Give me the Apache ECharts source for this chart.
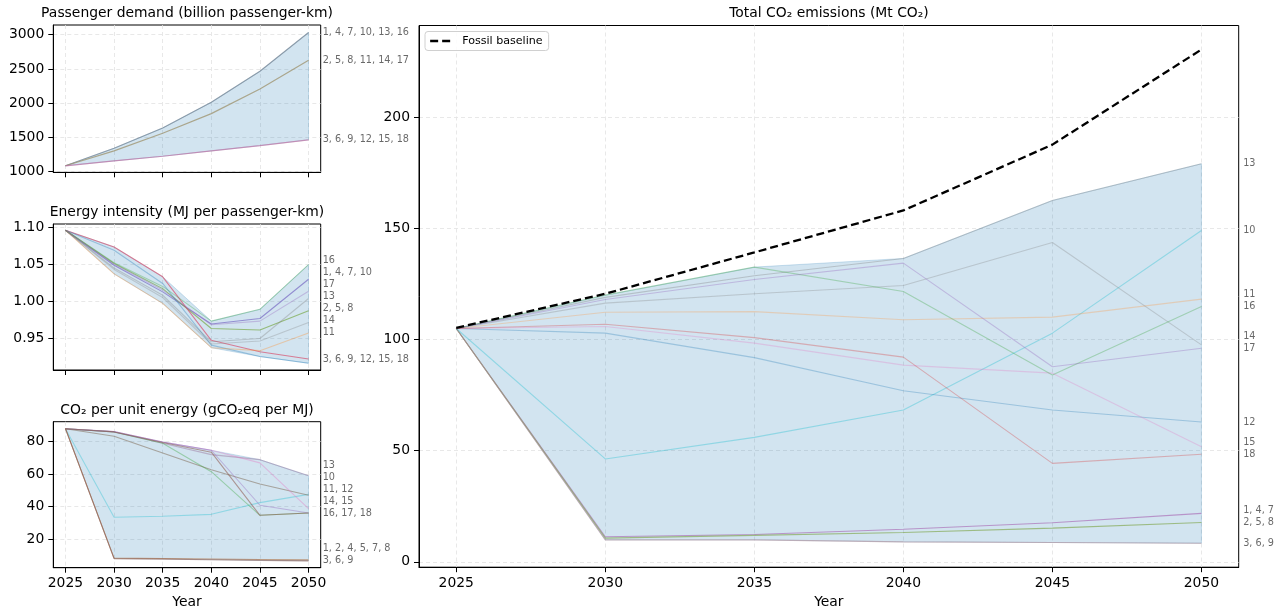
<!DOCTYPE html>
<html>
<head>
<meta charset="utf-8">
<script src="https://cdn.jsdelivr.net/npm/echarts@6/dist/echarts.min.js"></script>
<style>
  html, body { margin: 0; padding: 0; background: #fff; }
  #chart { width: 1285px; height: 612px; }
</style>
</head>
<body>
<div id="chart"></div>
<script>
// ---------------- data ----------------
const years = [2025, 2030, 2035, 2040, 2045, 2050];

// Passenger demand (billion passenger-km)
const demandHigh = [1085, 1341, 1637, 2012, 2465, 3032];
const demandMid  = [1085, 1302, 1560, 1847, 2207, 2625];
const demandLow  = [1085, 1156, 1224, 1302, 1380, 1464];
const demandTags = ['1, 4, 7, 10, 13, 16', '2, 5, 8, 11, 14, 17', '3, 6, 9, 12, 15, 18'];

// Energy intensity (MJ per passenger-km)
const eiA = [1.096, 1.0486, 1.0126, 0.969, 0.9766, 1.0297];   // 1, 4, 7, 10
const eiB = [1.096, 1.051, 1.017, 0.963, 0.961, 0.987];       // 2, 5, 8
const eiC = [1.096, 1.0734, 1.033, 0.947, 0.9315, 0.9216];    // 3, 6, 9, 12, 15, 18
const eiC2 = [1.096, 1.069, 1.024, 0.9405, 0.925, 0.916];     // low-intensity variant
const ei11 = [1.096, 1.037, 0.997, 0.937, 0.933, 0.957];
const ei13 = [1.096, 1.045, 1.008, 0.945, 0.9495, 1.0036];
const ei14 = [1.096, 1.043, 1.005, 0.942, 0.946, 0.971];
const ei16 = [1.096, 1.052, 1.020, 0.973, 0.989, 1.0495];
const ei17 = [1.096, 1.050, 1.015, 0.968, 0.973, 1.0135];
const eiTags = ['1, 4, 7, 10', '2, 5, 8', '3, 6, 9, 12, 15, 18', '', '11', '13', '14', '16', '17'];

// Carbon intensity of energy (gCO2eq per MJ)
const ci13 = [88.0, 86.0, 79.0, 72.0, 68.9, 59.0];
const ci10 = [88.0, 33.4, 34.0, 35.2, 42.4, 47.5];
const ci11 = [88.0, 83.3, 73.0, 62.7, 53.9, 47.0];            // 11, 12
const ci14 = [88.0, 86.2, 79.8, 74.7, 66.9, 38.7];            // 14, 15
const ci16 = [88.0, 86.0, 79.0, 61.5, 34.6, 36.0];
const ci17 = [88.0, 86.2, 79.8, 74.7, 40.8, 36.0];
const ci18 = [88.0, 86.0, 79.5, 73.5, 34.6, 36.0];
const ci1  = [88.0, 8.2, 8.0, 7.7, 7.4, 7.1];                 // 1, 2, 4, 5, 7, 8
const ci3  = [88.0, 7.9, 7.6, 7.2, 6.8, 6.5];                 // 3, 6, 9
const ciTags = ['13', '10', '11, 12', '14, 15', '16, 17, 18', '', '', '1, 2, 4, 5, 7, 8', '3, 6, 9'];

// Total CO2 emissions (Mt CO2)
const tot1  = [105.0, 11.3, 12.3, 14.7, 17.6, 21.8];   // 1, 4, 7
const tot2  = [105.0, 10.7, 11.9, 13.2, 15.2, 17.7];   // 2, 5, 8
const tot3  = [105.0, 9.9, 9.9, 9.0, 8.7, 8.4];        // 3, 6, 9
const tot10 = [105.0, 46.3, 56.0, 68.3, 102.9, 149.1];
const tot11 = [105.0, 112.3, 112.6, 108.9, 110.1, 118.2];
const tot12 = [105.0, 102.9, 91.9, 77.0, 68.3, 62.9];
const tot13 = [105.0, 119.0, 128.7, 136.5, 162.6, 179.1];
const tot14 = [105.0, 116.4, 120.6, 124.3, 143.7, 97.6];
const tot15 = [105.0, 105.9, 98.4, 88.5, 84.9, 51.8];
const tot16 = [105.0, 120.0, 132.6, 121.6, 84.1, 114.9];
const tot17 = [105.0, 118.0, 127.0, 134.4, 87.8, 96.1];
const tot18 = [105.0, 106.9, 100.9, 92.1, 44.3, 48.4];
const totTags = ['1, 4, 7', '2, 5, 8', '3, 6, 9', '10', '11', '12', '13', '14', '15', '16', '17', '18'];
const fossilBaseline = [105.3, 120.6, 139.2, 158.1, 187.7, 230.5];

// ticks
const demandTicks = [1000, 1500, 2000, 2500, 3000];
const eiTicks = [0.95, 1.00, 1.05, 1.10];
const ciTicks = [20, 40, 60, 80];
const totTicks = [0, 50, 100, 150, 200];

// ---------------- styling ----------------
const FONT = "'DejaVu Sans', sans-serif";
const BAND = 'rgba(31,119,180,0.2)';

const demandColors = ['rgba(120,135,150,0.75)', 'rgba(160,150,115,0.8)', 'rgba(190,110,160,0.7)'];
const eiColors = ['rgba(120,105,195,0.7)', 'rgba(115,165,60,0.65)', 'rgba(215,80,110,0.7)',
  'rgba(31,119,180,0.35)', 'rgba(255,140,40,0.35)', 'rgba(127,127,127,0.35)',
  'rgba(127,127,127,0.3)', 'rgba(44,160,44,0.3)', 'rgba(148,103,189,0.35)'];
const ciColors = ['rgba(150,110,150,0.45)', 'rgba(23,190,207,0.35)', 'rgba(130,110,90,0.55)',
  'rgba(227,119,194,0.4)', 'rgba(44,160,44,0.35)', 'rgba(148,103,189,0.4)', 'rgba(140,86,75,0.55)',
  'rgba(175,115,70,0.65)', 'rgba(140,86,75,0.55)'];
const totColors = ['rgba(165,95,175,0.6)', 'rgba(120,160,60,0.6)', 'rgba(175,140,150,0.6)',
  'rgba(23,190,207,0.35)', 'rgba(255,150,60,0.3)', 'rgba(31,119,180,0.3)',
  'rgba(127,127,127,0.35)', 'rgba(127,127,127,0.3)', 'rgba(227,119,194,0.3)',
  'rgba(44,160,44,0.3)', 'rgba(148,103,189,0.35)', 'rgba(214,39,40,0.3)'];

// panel geometry (px)
const panels = [
  { left: 53.3, top: 25,    width: 267.4, height: 147.3, yMin: 990,    yMax: 3141,   ticks: demandTicks, fmt: v => String(v), xLabels: false, labelDist: 2 },
  { left: 53.3, top: 224,   width: 267.4, height: 146,   yMin: 0.9068, yMax: 1.1045, ticks: eiTicks,     fmt: v => v.toFixed(2), xLabels: false, labelDist: 2 },
  { left: 53.3, top: 421.7, width: 267.4, height: 146,   yMin: 2.3,    yMax: 92.3,   ticks: ciTicks,     fmt: v => String(v), xLabels: true, labelDist: 2 },
  { left: 419,  top: 25.5,  width: 819.7, height: 541.7, yMin: -2.4,   yMax: 241.3,  ticks: totTicks,    fmt: v => String(v), xLabels: true, labelDist: 4.5 }
];
const X_MIN = 2023.75, X_MAX = 2051.25;

const splitLine = { show: true, lineStyle: { color: '#e2e2e2', type: [4, 3], width: 0.8 } };

const grids = panels.map(p => ({
  left: p.left, top: p.top, width: p.width, height: p.height,
  show: true, borderColor: '#000', borderWidth: 1, backgroundColor: 'transparent',
  containLabel: false, outerBoundsMode: 'none'
}));

const xAxes = panels.map((p, i) => ({
  type: 'value', gridIndex: i, min: X_MIN, max: X_MAX,
  axisLine: { show: true, onZero: false, lineStyle: { color: '#000', width: 1 } },
  axisTick: { show: true, length: 5, customValues: years, lineStyle: { color: '#000', width: 1 } },
  axisLabel: { show: p.xLabels, customValues: years, formatter: v => String(v), fontSize: 13.9,
    color: '#000', margin: 9, fontFamily: FONT },
  splitLine,
  name: p.xLabels ? 'Year' : '', nameLocation: 'middle', nameGap: 28,
  nameTextStyle: { fontSize: 13.9, color: '#000', fontFamily: FONT }
}));

const yAxes = panels.map((p, i) => ({
  type: 'value', gridIndex: i, min: p.yMin, max: p.yMax,
  axisLine: { show: true, onZero: false, lineStyle: { color: '#000', width: 1 } },
  axisTick: { show: true, length: 5, customValues: p.ticks, lineStyle: { color: '#000', width: 1 } },
  axisLabel: { show: true, customValues: p.ticks, formatter: p.fmt, fontSize: 13.9,
    color: '#000', margin: 9, fontFamily: FONT },
  splitLine
}));

// ---------------- helpers ----------------
const pts = arr => years.map((y, i) => [y, arr[i]]);

// shaded envelope between the lowest and highest trajectory of a panel
function bandSeries(idx, lines) {
  const lo = years.map((_, i) => Math.min(...lines.map(l => l[i])));
  const hi = years.map((_, i) => Math.max(...lines.map(l => l[i])));
  return {
    type: 'custom', xAxisIndex: idx, yAxisIndex: idx, silent: true, z: 1,
    data: [[years[0], lo[0]]],
    encode: { x: 0, y: 1 },
    renderItem: (params, api) => {
      const top = years.map((y, i) => api.coord([y, hi[i]]));
      const bottom = years.map((y, i) => api.coord([y, lo[i]])).reverse();
      return {
        type: 'polygon',
        shape: { points: top.concat(bottom) },
        style: { fill: BAND, stroke: BAND, lineWidth: 1 }
      };
    }
  };
}

function lineSeries(idx, arr, color, width) {
  return {
    type: 'line', xAxisIndex: idx, yAxisIndex: idx, data: pts(arr),
    symbol: 'none', silent: true, z: 3,
    lineStyle: { color, width: width || 1 }
  };
}

// scenario tags at the right edge, nudged upward so they never overlap
function tagSeries(idx, lines, tags) {
  const p = panels[idx];
  const gap = 12 * (p.yMax - p.yMin) / p.height;
  const items = lines.map((l, i) => ({ text: tags[i], value: l[l.length - 1] }))
    .filter(d => d.text)
    .sort((a, b) => a.value - b.value);
  let prev = -Infinity;
  const placed = items.map(d => {
    const v = Math.max(d.value, prev + gap);
    prev = v;
    return { name: d.text, value: [X_MAX, v] };
  });
  return {
    type: 'scatter', xAxisIndex: idx, yAxisIndex: idx, symbolSize: 0, silent: true, clip: false,
    data: placed, z: 6,
    label: { show: true, position: 'right', distance: p.labelDist, formatter: '{b}',
      fontSize: 9.7, color: '#444', fontFamily: FONT }
  };
}

// ---------------- series ----------------
const demandLines = [demandHigh, demandMid, demandLow];
const eiLines = [eiA, eiB, eiC, eiC2, ei11, ei13, ei14, ei16, ei17];
const ciLines = [ci13, ci10, ci11, ci14, ci16, ci17, ci18, ci1, ci3];
const totLines = [tot1, tot2, tot3, tot10, tot11, tot12, tot13, tot14, tot15, tot16, tot17, tot18];

const series = [];
series.push(bandSeries(0, demandLines));
demandLines.forEach((l, i) => series.push(lineSeries(0, l, demandColors[i], 1.2)));
series.push(tagSeries(0, demandLines, demandTags));

series.push(bandSeries(1, eiLines));
eiLines.forEach((l, i) => series.push(lineSeries(1, l, eiColors[i], 1.1)));
series.push(tagSeries(1, eiLines, eiTags));

series.push(bandSeries(2, ciLines));
ciLines.forEach((l, i) => series.push(lineSeries(2, l, ciColors[i], 1.1)));
series.push(tagSeries(2, ciLines, ciTags));

series.push(bandSeries(3, totLines));
totLines.forEach((l, i) => series.push(lineSeries(3, l, totColors[i], 1.1)));
series.push(tagSeries(3, totLines, totTags));

series.push({
  name: 'Fossil baseline', type: 'line', xAxisIndex: 3, yAxisIndex: 3,
  data: pts(fossilBaseline), symbol: 'none', showSymbol: false, silent: true, z: 8,
  itemStyle: { color: '#000' },
  lineStyle: { color: '#000', width: 2.3, type: [8, 4] }
});

const titleStyle = { fontSize: 13.9, fontWeight: 'normal', color: '#000', fontFamily: FONT };
const option = {
  animation: false,
  backgroundColor: '#fff',
  textStyle: { fontFamily: FONT },
  title: [
    { text: 'Passenger demand (billion passenger-km)', left: 187, top: 6, textAlign: 'center', padding: 0, textStyle: titleStyle },
    { text: 'Energy intensity (MJ per passenger-km)', left: 187, top: 205, textAlign: 'center', padding: 0, textStyle: titleStyle },
    { text: 'CO₂ per unit energy (gCO₂eq per MJ)', left: 187, top: 403, textAlign: 'center', padding: 0, textStyle: titleStyle },
    { text: 'Total CO₂ emissions (Mt CO₂)', left: 829, top: 6, textAlign: 'center', padding: 0, textStyle: titleStyle }
  ],
  legend: {
    data: ['Fossil baseline'], left: 425, top: 31.5, orient: 'vertical',
    padding: [4, 6, 4, 4], itemWidth: 23, itemHeight: 12, itemGap: 0,
    itemStyle: { opacity: 0 },
    lineStyle: { color: '#000', width: 2.3, type: [8, 4] },
    backgroundColor: 'rgba(255,255,255,0.85)', borderColor: '#d0d0d0', borderWidth: 1, borderRadius: 3,
    textStyle: { fontSize: 11.1, color: '#000', fontFamily: FONT, padding: [0, 0, 0, 4] }
  },
  grid: grids,
  xAxis: xAxes,
  yAxis: yAxes,
  series
};

const chart = echarts.init(document.getElementById('chart'), null, { renderer: 'canvas' });
chart.setOption(option);
</script>
</body>
</html>
